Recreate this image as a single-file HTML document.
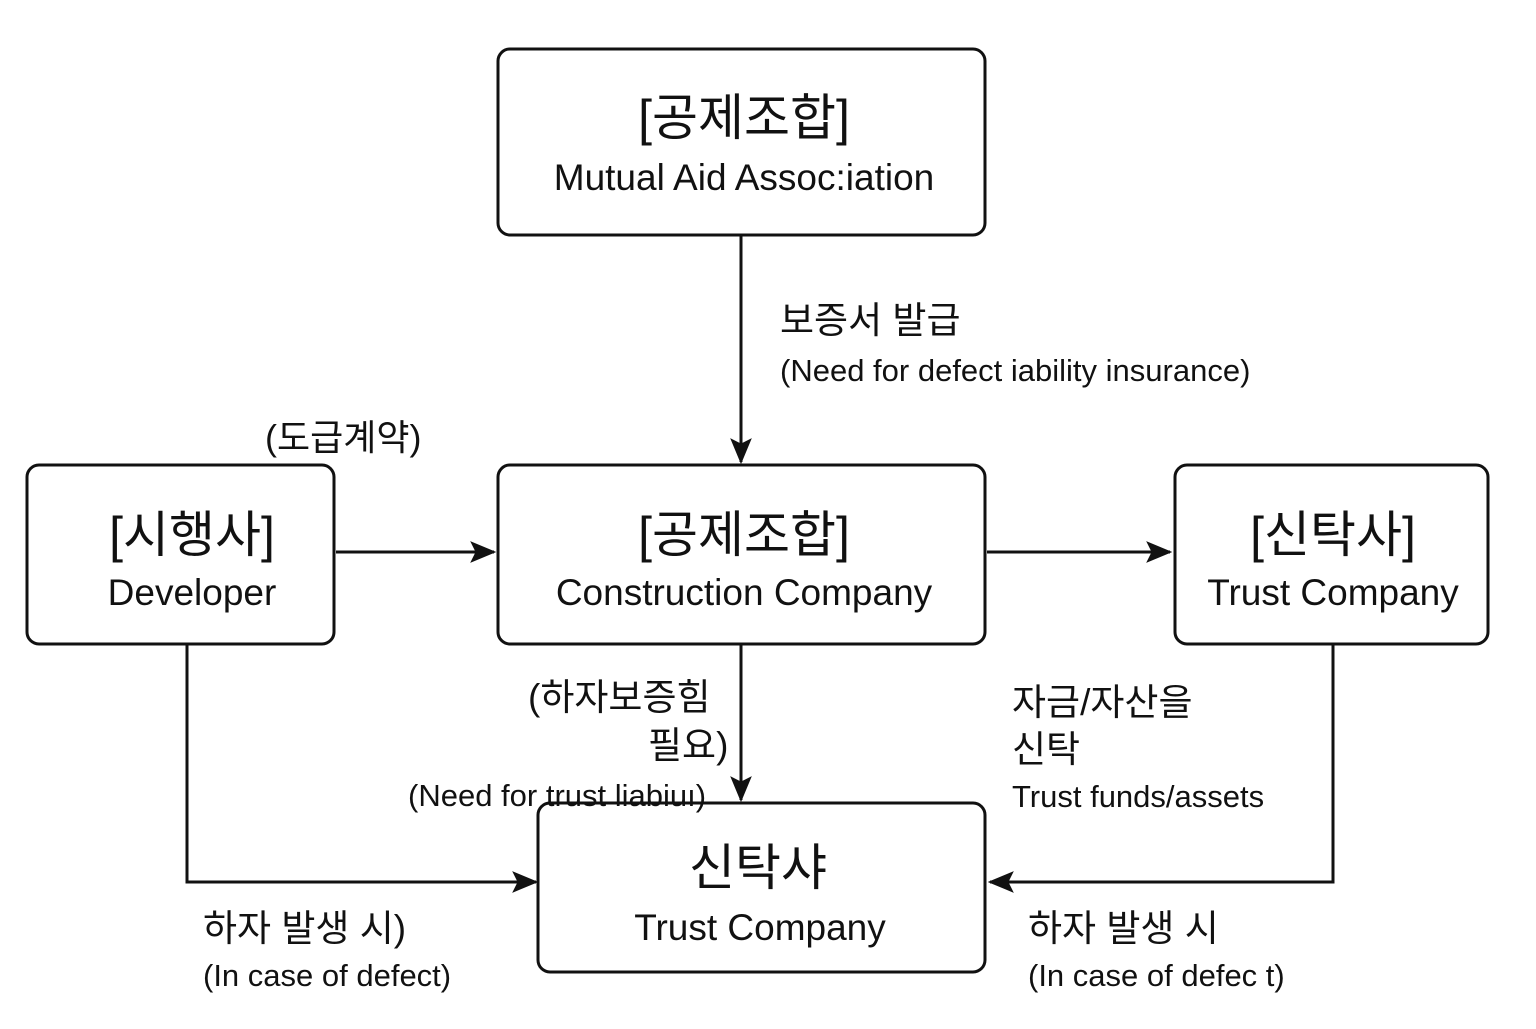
<!DOCTYPE html>
<html><head><meta charset="utf-8"><style>
html,body{margin:0;padding:0;background:#fff;}
svg text{font-family:"Liberation Sans","Noto Sans CJK KR",sans-serif;fill:#111;}
</style></head><body>
<svg width="1536" height="1024" viewBox="0 0 1536 1024" xmlns="http://www.w3.org/2000/svg">
<defs><marker id="a" markerWidth="12" markerHeight="12" refX="10" refY="6" orient="auto" markerUnits="userSpaceOnUse"><path d="M0,0 L22,6 L0,12 Z" transform="scale(0.55,1) translate(0,0)"/></marker>
<marker id="b" viewBox="0 0 24 20" markerWidth="26" markerHeight="22" refX="22" refY="10" orient="auto" markerUnits="userSpaceOnUse"><path d="M0,0 L24,10 L0,20 L5,10 Z" fill="#111"/></marker></defs>
<g fill="none" stroke="#111" stroke-width="3">
<rect x="498" y="49" width="487" height="186" rx="12"/>
<rect x="27" y="465" width="307" height="179" rx="12"/>
<rect x="498" y="465" width="487" height="179" rx="12"/>
<rect x="1175" y="465" width="313" height="179" rx="12"/>
<rect x="538" y="803" width="447" height="169" rx="12"/>
<line x1="741" y1="235" x2="741" y2="462" marker-end="url(#b)"/>
<line x1="336" y1="552" x2="494" y2="552" marker-end="url(#b)"/>
<line x1="987" y1="552" x2="1170" y2="552" marker-end="url(#b)"/>
<line x1="741" y1="644" x2="741" y2="800" marker-end="url(#b)"/>
<polyline points="187,644 187,882 536,882" marker-end="url(#b)"/>
<polyline points="1333,644 1333,882 990,882" marker-end="url(#b)"/>
</g>
<g text-anchor="middle">
<text x="744" y="135" font-size="50">[공제조합]</text>
<text x="744" y="190" font-size="37">Mutual Aid Assoc:iation</text>
<text x="192" y="552" font-size="50">[시행사]</text>
<text x="192" y="605" font-size="37">Developer</text>
<text x="744" y="552" font-size="50">[공제조합]</text>
<text x="744" y="605" font-size="37">Construction Company</text>
<text x="1333" y="552" font-size="50">[신탁사]</text>
<text x="1333" y="605" font-size="37">Trust Company</text>
<text x="758" y="885" font-size="50">신탁샤</text>
<text x="760" y="940" font-size="37">Trust Company</text>
</g>
<text x="780" y="333" font-size="37">보증서 발급</text>
<text x="780" y="381" font-size="31">(Need for defect iability insurance)</text>
<text x="265" y="450" font-size="36">(도급계약)</text>
<text x="528" y="710" font-size="37">(하자보증힘</text>
<text x="648" y="758" font-size="37">필요)</text>
<text x="408" y="806" font-size="31">(Need for trust liabiuı)</text>
<text x="1012" y="715" font-size="37">자금/자산을</text>
<text x="1012" y="762" font-size="37">신탁</text>
<text x="1012" y="807" font-size="31">Trust funds/assets</text>
<text x="203" y="941" font-size="37">하자 발생 시)</text>
<text x="203" y="986" font-size="31">(In case of defect)</text>
<text x="1028" y="941" font-size="37">하자 발생 시</text>
<text x="1028" y="986" font-size="31">(In case of defec t)</text>
</svg>
</body></html>
